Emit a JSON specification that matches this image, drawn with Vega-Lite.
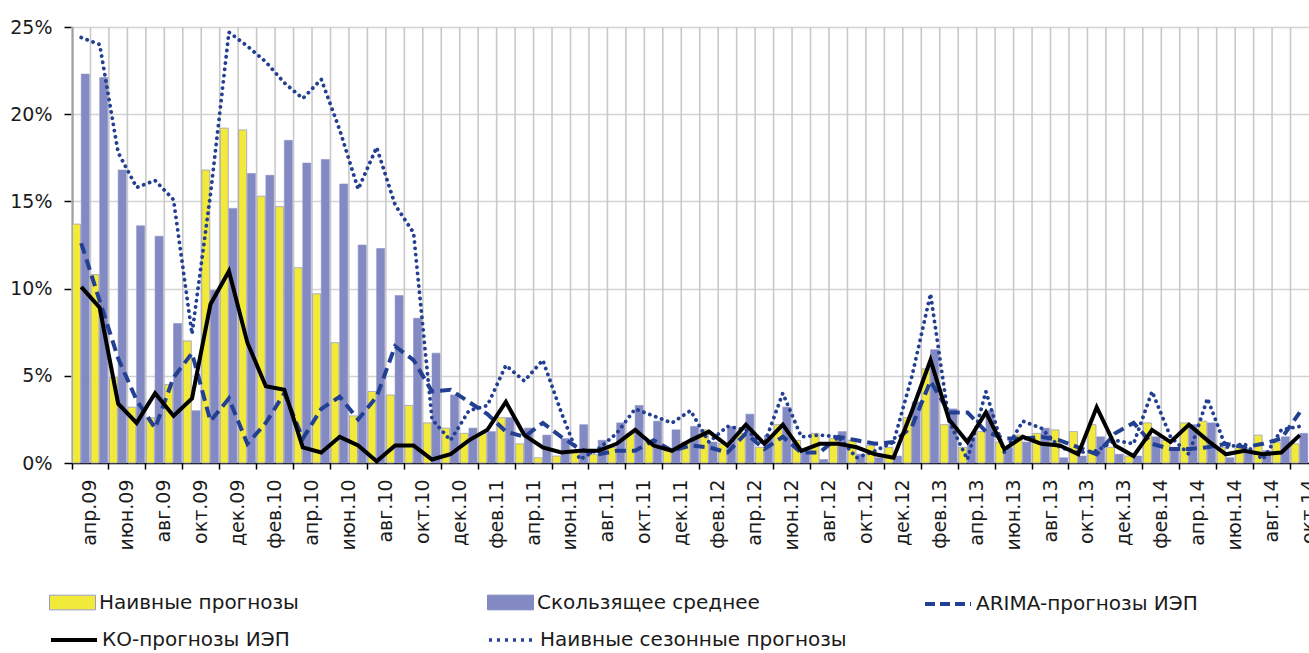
{
  "$schema": "https://vega.github.io/schema/vega-lite/v6.json",
  "autosize": "none",
  "width": 1237,
  "height": 436,
  "padding": {"left": 72, "top": 27, "right": 0, "bottom": 190},
  "background": "white",
  "config": {
    "font": "DejaVu Sans",
    "view": {"stroke": null},
    "axis": {"labelFont": "DejaVu Sans", "labelFontSize": 19, "labelColor": "#1a1a1a", "domainColor": "#000", "domainWidth": 1.5, "tickColor": "#000", "tickWidth": 1.5},
    "legend": {"orient": "none", "padding": 0, "symbolSize": 2116, "labelFontSize": 20, "labelFont": "DejaVu Sans", "labelColor": "#1a1a1a", "labelOffset": 3, "labelLimit": 0, "title": null}
  },
  "resolve": {"legend": {"color": "independent"}},
  "data": {"values": [
    {"m": "апр.09", "naive": 13.7, "ma": 22.3, "arima": 12.6, "ko": 10.1, "seas": 24.4},
    {"m": "май.09", "naive": 10.8, "ma": 22.1, "arima": 9.3, "ko": 8.9, "seas": 24.0},
    {"m": "июн.09", "naive": 4.9, "ma": 16.8, "arima": 6.0, "ko": 3.4, "seas": 17.8},
    {"m": "июл.09", "naive": 3.2, "ma": 13.6, "arima": 3.6, "ko": 2.3, "seas": 15.8},
    {"m": "авг.09", "naive": 2.6, "ma": 13.0, "arima": 2.0, "ko": 4.0, "seas": 16.2},
    {"m": "сен.09", "naive": 4.5, "ma": 8.0, "arima": 4.9, "ko": 2.7, "seas": 15.1},
    {"m": "окт.09", "naive": 7.0, "ma": 3.0, "arima": 6.3, "ko": 3.7, "seas": 7.4},
    {"m": "ноя.09", "naive": 16.8, "ma": 9.9, "arima": 2.4, "ko": 9.1, "seas": 15.4},
    {"m": "дек.09", "naive": 19.2, "ma": 14.6, "arima": 3.7, "ko": 11.0, "seas": 24.7},
    {"m": "янв.10", "naive": 19.1, "ma": 16.6, "arima": 1.1, "ko": 6.9, "seas": 23.9},
    {"m": "фев.10", "naive": 15.3, "ma": 16.5, "arima": 2.3, "ko": 4.4, "seas": 23.0},
    {"m": "мар.10", "naive": 14.7, "ma": 18.5, "arima": 4.0, "ko": 4.2, "seas": 21.8},
    {"m": "апр.10", "naive": 11.2, "ma": 17.2, "arima": 1.4, "ko": 0.9, "seas": 20.9},
    {"m": "май.10", "naive": 9.7, "ma": 17.4, "arima": 3.1, "ko": 0.6, "seas": 22.0},
    {"m": "июн.10", "naive": 6.9, "ma": 16.0, "arima": 3.8, "ko": 1.5, "seas": 19.1},
    {"m": "июл.10", "naive": 2.7, "ma": 12.5, "arima": 2.5, "ko": 1.0, "seas": 15.7},
    {"m": "авг.10", "naive": 4.1, "ma": 12.3, "arima": 3.8, "ko": 0.1, "seas": 18.1},
    {"m": "сен.10", "naive": 3.9, "ma": 9.6, "arima": 6.7, "ko": 1.0, "seas": 14.8},
    {"m": "окт.10", "naive": 3.3, "ma": 8.3, "arima": 5.9, "ko": 1.0, "seas": 13.2},
    {"m": "ноя.10", "naive": 2.3, "ma": 6.3, "arima": 4.1, "ko": 0.2, "seas": 2.5},
    {"m": "дек.10", "naive": 2.0, "ma": 3.9, "arima": 4.2, "ko": 0.5, "seas": 1.3},
    {"m": "янв.11", "naive": 1.7, "ma": 2.0, "arima": 3.5, "ko": 1.3, "seas": 3.0},
    {"m": "фев.11", "naive": 1.7, "ma": 1.8, "arima": 2.8, "ko": 1.9, "seas": 3.3},
    {"m": "мар.11", "naive": 2.6, "ma": 2.6, "arima": 1.8, "ko": 3.5, "seas": 5.6},
    {"m": "апр.11", "naive": 1.1, "ma": 2.0, "arima": 1.5, "ko": 1.6, "seas": 4.7},
    {"m": "май.11", "naive": 0.3, "ma": 1.6, "arima": 2.3, "ko": 0.9, "seas": 5.9},
    {"m": "июн.11", "naive": 0.4, "ma": 1.4, "arima": 1.5, "ko": 0.6, "seas": 2.9},
    {"m": "июл.11", "naive": 0.7, "ma": 2.2, "arima": 0.8, "ko": 0.7, "seas": 0.2},
    {"m": "авг.11", "naive": 0.5, "ma": 1.3, "arima": 0.5, "ko": 0.7, "seas": 0.8},
    {"m": "сен.11", "naive": 0.9, "ma": 2.3, "arima": 0.7, "ko": 1.1, "seas": 1.7},
    {"m": "окт.11", "naive": 1.7, "ma": 3.3, "arima": 0.7, "ko": 1.9, "seas": 3.1},
    {"m": "ноя.11", "naive": 1.2, "ma": 2.4, "arima": 1.3, "ko": 1.0, "seas": 2.7},
    {"m": "дек.11", "naive": 0.7, "ma": 1.9, "arima": 0.7, "ko": 0.7, "seas": 2.3},
    {"m": "янв.12", "naive": 1.2, "ma": 2.1, "arima": 1.0, "ko": 1.3, "seas": 3.0},
    {"m": "фев.12", "naive": 1.9, "ma": 1.2, "arima": 0.9, "ko": 1.8, "seas": 1.2},
    {"m": "мар.12", "naive": 1.1, "ma": 2.1, "arima": 0.6, "ko": 1.0, "seas": 2.1},
    {"m": "апр.12", "naive": 1.7, "ma": 2.8, "arima": 1.7, "ko": 2.2, "seas": 1.9},
    {"m": "май.12", "naive": 0.9, "ma": 1.6, "arima": 0.8, "ko": 1.1, "seas": 1.1},
    {"m": "июн.12", "naive": 2.2, "ma": 3.2, "arima": 1.5, "ko": 2.2, "seas": 4.0},
    {"m": "июл.12", "naive": 1.3, "ma": 0.7, "arima": 0.6, "ko": 0.7, "seas": 1.5},
    {"m": "авг.12", "naive": 1.7, "ma": 0.2, "arima": 0.6, "ko": 1.1, "seas": 1.6},
    {"m": "сен.12", "naive": 1.4, "ma": 1.8, "arima": 1.5, "ko": 1.1, "seas": 1.5},
    {"m": "окт.12", "naive": 1.3, "ma": 0.5, "arima": 1.3, "ko": 0.9, "seas": 0.3},
    {"m": "ноя.12", "naive": 1.0, "ma": 0.3, "arima": 1.1, "ko": 0.5, "seas": 0.7},
    {"m": "дек.12", "naive": 0.9, "ma": 0.4, "arima": 1.2, "ko": 0.3, "seas": 1.2},
    {"m": "янв.13", "naive": 2.6, "ma": 3.5, "arima": 2.1, "ko": 3.0, "seas": 5.0},
    {"m": "фев.13", "naive": 5.4, "ma": 6.5, "arima": 4.7, "ko": 5.9, "seas": 9.7},
    {"m": "мар.13", "naive": 2.2, "ma": 3.1, "arima": 2.9, "ko": 2.5, "seas": 2.4},
    {"m": "апр.13", "naive": 0.9, "ma": 1.5, "arima": 2.9, "ko": 1.2, "seas": 0.2},
    {"m": "май.13", "naive": 1.8, "ma": 3.0, "arima": 1.8, "ko": 2.9, "seas": 4.1},
    {"m": "июн.13", "naive": 1.2, "ma": 0.9, "arima": 1.4, "ko": 0.8, "seas": 0.6},
    {"m": "июл.13", "naive": 1.6, "ma": 1.2, "arima": 1.4, "ko": 1.5, "seas": 2.4},
    {"m": "авг.13", "naive": 1.7, "ma": 2.0, "arima": 1.5, "ko": 1.1, "seas": 2.0},
    {"m": "сен.13", "naive": 1.9, "ma": 0.3, "arima": 1.3, "ko": 1.0, "seas": 0.9},
    {"m": "окт.13", "naive": 1.8, "ma": 0.4, "arima": 0.9, "ko": 0.5, "seas": 0.6},
    {"m": "ноя.13", "naive": 2.2, "ma": 1.5, "arima": 0.5, "ko": 3.2, "seas": 0.7},
    {"m": "дек.13", "naive": 0.9, "ma": 0.5, "arima": 1.7, "ko": 1.0, "seas": 1.3},
    {"m": "янв.14", "naive": 0.4, "ma": 0.4, "arima": 2.3, "ko": 0.4, "seas": 1.1},
    {"m": "фев.14", "naive": 2.3, "ma": 1.5, "arima": 1.1, "ko": 1.9, "seas": 4.1},
    {"m": "мар.14", "naive": 1.3, "ma": 0.9, "arima": 0.8, "ko": 1.2, "seas": 1.5},
    {"m": "апр.14", "naive": 2.3, "ma": 2.2, "arima": 0.8, "ko": 2.2, "seas": 0.5},
    {"m": "май.14", "naive": 2.4, "ma": 2.3, "arima": 0.9, "ko": 1.3, "seas": 3.7},
    {"m": "июн.14", "naive": 0.9, "ma": 0.3, "arima": 1.1, "ko": 0.5, "seas": 0.9},
    {"m": "июл.14", "naive": 1.0, "ma": 0.6, "arima": 0.9, "ko": 0.7, "seas": 1.1},
    {"m": "авг.14", "naive": 1.6, "ma": 0.7, "arima": 1.1, "ko": 0.5, "seas": 0.2},
    {"m": "сен.14", "naive": 1.2, "ma": 1.5, "arima": 1.4, "ko": 0.6, "seas": 1.9},
    {"m": "окт.14", "naive": 1.1, "ma": 1.7, "arima": 2.9, "ko": 1.6, "seas": 2.1}
  ]},
  "transform": [{"fold": ["naive", "ma", "arima", "ko", "seas"], "as": ["s", "v"]}],
  "encoding": {
    "x": {
      "field": "m", "type": "nominal", "sort": null, "title": null,
      "scale": {"type": "band", "paddingInner": 0, "paddingOuter": 0},
      "axis": {
        "values": ["апр.09","июн.09","авг.09","окт.09","дек.09","фев.10","апр.10","июн.10","авг.10","окт.10","дек.10","фев.11","апр.11","июн.11","авг.11","окт.11","дек.11","фев.12","апр.12","июн.12","авг.12","окт.12","дек.12","фев.13","апр.13","июн.13","авг.13","окт.13","дек.13","фев.14","апр.14","июн.14","авг.14","окт.14"],
        "bandPosition": 0, "labelOffset": 9.23, "labelAngle": -90, "labelAlign": "right", "labelBaseline": "middle",
        "tickSize": 6, "labelPadding": 10, "grid": false, "labelFontSize": 19
      }
    },
    "y": {
      "field": "v", "type": "quantitative", "title": null,
      "scale": {"domain": [0, 25], "nice": false},
      "axis": {"values": [0, 5, 10, 15, 20, 25], "labelExpr": "datum.value + '%'", "tickSize": 8, "labelPadding": 12, "grid": true, "gridColor": "#D3D3D3", "gridWidth": 1.6, "labelFontSize": 19}
    }
  },
  "layer": [
    {
      "transform": [{"filter": "datum.s === 'naive'"}],
      "mark": {"type": "rule", "color": "#C9C9C9", "strokeWidth": 1.6},
      "encoding": {"x": {"field": "m", "type": "nominal", "sort": null, "bandPosition": 0}, "y": null}
    },
    {
      "transform": [{"filter": "datum.s === 'naive'"}],
      "mark": {"type": "bar", "stroke": "#9C9CC8", "strokeWidth": 0.8},
      "encoding": {
        "xOffset": {"field": "s", "type": "nominal", "scale": {"domain": ["naive", "ma"], "paddingInner": 0.08, "paddingOuter": 0.1, "align": 0.3}},
        "color": {
          "field": "s", "type": "nominal",
          "scale": {"domain": ["naive", "ma", "arima", "ko", "seas"], "range": ["#F2EA3A", "#8389C2", "#233F92", "#000000", "#233F92"]},
          "legend": {"values": ["naive"], "legendX": -23, "legendY": 552, "symbolType": "M-1,-0.32H1V0.32H-1Z", "symbolStrokeColor": "#9C9CC8", "symbolStrokeWidth": 1, "labelExpr": "'Наивные прогнозы'"}
        }
      }
    },
    {
      "transform": [{"filter": "datum.s === 'ma'"}],
      "mark": {"type": "bar", "stroke": "#8C92C8", "strokeWidth": 0.6},
      "encoding": {
        "xOffset": {"field": "s", "type": "nominal", "scale": {"domain": ["naive", "ma"], "paddingInner": 0.08, "paddingOuter": 0.1, "align": 0.3}},
        "color": {
          "field": "s", "type": "nominal",
          "legend": {"values": ["ma"], "legendX": 415, "legendY": 552, "symbolType": "M-1,-0.32H1V0.32H-1Z", "symbolStrokeColor": "#8389C2", "symbolStrokeWidth": 1, "labelExpr": "'Скользящее среднее'"}
        }
      }
    },
    {
      "transform": [{"filter": "datum.s === 'seas'"}],
      "mark": {"type": "line", "strokeWidth": 3.8, "strokeDash": [0.1, 6.2], "strokeCap": "round"},
      "encoding": {
        "color": {
          "field": "s", "type": "nominal",
          "legend": {"values": ["seas"], "legendX": 415, "legendY": 588, "symbolType": "stroke", "symbolStrokeWidth": 3.5, "symbolDash": [3, 5], "labelExpr": "'Наивные сезонные прогнозы'"}
        }
      }
    },
    {
      "transform": [{"filter": "datum.s === 'arima'"}],
      "mark": {"type": "line", "strokeWidth": 4, "strokeDash": [11, 6]},
      "encoding": {
        "color": {
          "field": "s", "type": "nominal",
          "legend": {"values": ["arima"], "legendX": 851, "legendY": 552, "symbolType": "stroke", "symbolStrokeWidth": 4, "symbolDash": [10, 5], "labelExpr": "'ARIMA-прогнозы ИЭП'"}
        }
      }
    },
    {
      "transform": [{"filter": "datum.s === 'ko'"}],
      "mark": {"type": "line", "strokeWidth": 4},
      "encoding": {
        "color": {
          "field": "s", "type": "nominal",
          "legend": {"values": ["ko"], "legendX": -23, "legendY": 588, "symbolType": "stroke", "symbolStrokeWidth": 4, "labelExpr": "'КО-прогнозы ИЭП'"}
        }
      }
    }
  ]
}
